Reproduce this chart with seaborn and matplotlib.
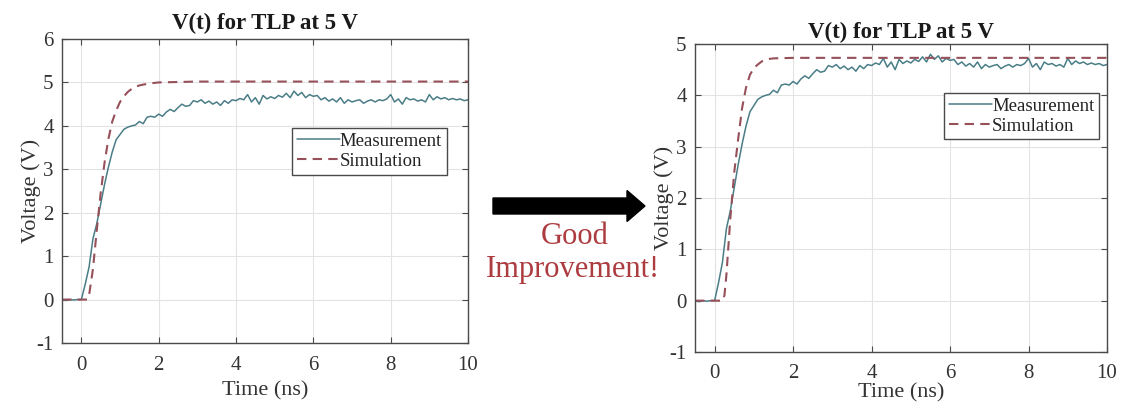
import numpy as np
import pandas as pd
import matplotlib
matplotlib.use("Agg")
import matplotlib.pyplot as plt
from matplotlib.patches import FancyArrow
import seaborn as sns

# ---------------- data ----------------
meas_t = [round(-0.5 + 0.1 * i, 1) for i in range(106)]
meas_v = [0.00, -0.02, 0.00, -0.01, 0.00, 0.00,            # -0.5 .. 0.0
          0.35, 0.75, 1.40, 1.75, 2.20, 2.65, 3.05, 3.40, 3.68, 3.80,  # 0.1 .. 1.0
          3.92, 3.97, 4.00, 4.02, 4.10, 4.05, 4.20, 4.22, 4.20, 4.27,  # 1.1 .. 2.0
          4.22, 4.32, 4.38, 4.33, 4.42, 4.50, 4.45, 4.47, 4.58, 4.55,  # 2.1 .. 3.0
          4.60, 4.52, 4.57, 4.50, 4.55, 4.47, 4.58, 4.52, 4.60, 4.58,  # 3.1 .. 4.0
          4.63, 4.60, 4.72, 4.55, 4.65, 4.50, 4.70, 4.62, 4.67, 4.63,  # 4.1 .. 5.0
          4.70, 4.66, 4.75, 4.65, 4.80, 4.70, 4.77, 4.65, 4.72, 4.68,  # 5.1 .. 6.0
          4.70, 4.60, 4.65, 4.57, 4.62, 4.55, 4.65, 4.52, 4.60, 4.55,  # 6.1 .. 7.0
          4.58, 4.60, 4.52, 4.57, 4.60, 4.55, 4.60, 4.58, 4.62, 4.72,  # 7.1 .. 8.0
          4.55, 4.62, 4.50, 4.65, 4.60, 4.62, 4.57, 4.60, 4.55, 4.72,  # 8.1 .. 9.0
          4.60, 4.67, 4.62, 4.65, 4.60, 4.63, 4.60, 4.62, 4.58, 4.60]  # 9.1 .. 10.0

sim1_t = [-0.5, 0.0, 0.15, 0.2, 0.3, 0.4, 0.5, 0.6, 0.7, 0.8, 0.9, 1.0, 1.1,
          1.2, 1.3, 1.4, 1.5, 1.6, 1.8, 2.0, 2.5, 3.0, 10.0]
sim1_v = [0.0, 0.0, 0.0, 0.1, 0.7, 1.6, 2.45, 3.15, 3.7, 4.1, 4.35, 4.55, 4.68,
          4.78, 4.85, 4.9, 4.93, 4.95, 4.98, 5.0, 5.01, 5.02, 5.02]

sim2_t = [-0.5, 0.0, 0.2, 0.25, 0.3, 0.4, 0.5, 0.6, 0.7, 0.8, 0.9, 1.0, 1.1,
          1.2, 1.3, 1.4, 1.5, 2.0, 10.0]
sim2_v = [0.0, 0.0, 0.0, 0.1, 0.5, 1.6, 2.5, 3.15, 3.75, 4.15, 4.4, 4.53, 4.6,
          4.66, 4.69, 4.71, 4.72, 4.73, 4.73]

title = "V(t) for TLP at 5 V"
xlabel = "Time (ns)"
ylabel = "Voltage (V)"
labels = ["Measurement", "Simulation"]
xticks = [0, 2, 4, 6, 8, 10]
yticks1 = [-1, 0, 1, 2, 3, 4, 5, 6]
yticks2 = [-1, 0, 1, 2, 3, 4, 5]

# ---------------- style ----------------
sns.set_theme(style="whitegrid")
plt.rcParams["font.family"] = ["Liberation Serif", "DejaVu Serif"]
plt.rcParams["axes.unicode_minus"] = False

meas_color = "#4a7d86"
sim_color = "#96505a"
spine_color = "#4a4a4a"

fig = plt.figure(figsize=(11.21, 4.12), dpi=100)
fig.patch.set_facecolor("white")

ax1 = fig.add_axes([62 / 1121, 1 - 343 / 412, 406 / 1121, 304 / 412])
ax2 = fig.add_axes([695 / 1121, 1 - 352 / 412, 412 / 1121, 308 / 412])


def draw(ax, sim_t, sim_v, yticks, ylim, legend_anchor, title_pad, xlab_pad,
         ylab_pad):
    sns.lineplot(x=meas_t, y=meas_v, ax=ax, color=meas_color, linewidth=1.1,
                 label=labels[0])
    sns.lineplot(x=sim_t, y=sim_v, ax=ax, color=sim_color, linewidth=1.5,
                 label=labels[1])
    ax.lines[1].set_linestyle((0, (4.5, 3)))
    ax.set_xlim(-0.5, 10)
    ax.set_ylim(*ylim)
    ax.set_xticks(xticks)
    ax.set_yticks(yticks)
    ax.set_facecolor("white")
    ax.grid(True, color="#e3e3e3", linewidth=0.8)
    for s in ax.spines.values():
        s.set_visible(True)
        s.set_color(spine_color)
        s.set_linewidth(1.0)
    ax.tick_params(axis="both", direction="in", length=4, width=0.8,
                   colors=spine_color, labelcolor="#333333", labelsize=15,
                   top=True, right=True, bottom=True, left=True)
    ax.tick_params(axis="x", pad=9)
    ax.tick_params(axis="y", pad=6)
    ax.set_title(title, fontsize=16.5, fontweight="bold", pad=title_pad,
                 color="#1a1a1a")
    ax.set_xlabel(xlabel, fontsize=16, color="#333333", labelpad=xlab_pad)
    ax.set_ylabel(ylabel, fontsize=16, color="#333333", labelpad=ylab_pad)
    leg = ax.legend(loc="upper right", bbox_to_anchor=legend_anchor,
                    fontsize=13.5, frameon=True, fancybox=False,
                    edgecolor=spine_color, framealpha=1, borderpad=0.25,
                    handlelength=2.3, handletextpad=0.0, labelspacing=0.15,
                    borderaxespad=0)
    leg.get_frame().set_linewidth(1.0)
    for t in leg.get_texts():
        t.set_color("#222222")


draw(ax1, sim1_t, sim1_v, yticks1, (-1, 6), (0.948, 0.707), 7, 5, -3)
draw(ax2, sim2_t, sim2_v, yticks2, (-1, 5), (0.981, 0.841), 4, 0, -3)

# ---------------- arrow annotation ----------------
x0 = 493 / 1121
x1 = 645 / 1121
yc = 1 - 206 / 412
arrow = FancyArrow(x0, yc, x1 - x0, 0, width=16 / 412, head_width=31 / 412,
                   head_length=18 / 1121, length_includes_head=True,
                   transform=fig.transFigure, color="black")
fig.add_artist(arrow)
fig.text(575 / 1121, 1 - 237 / 412, "Good", ha="center", va="center",
         fontsize=22, color="#ad3c40")
fig.text(573 / 1121, 1 - 270 / 412, "Improvement!", ha="center", va="center",
         fontsize=22, color="#ad3c40")

fig.savefig("out.png", dpi=100, facecolor="white")
